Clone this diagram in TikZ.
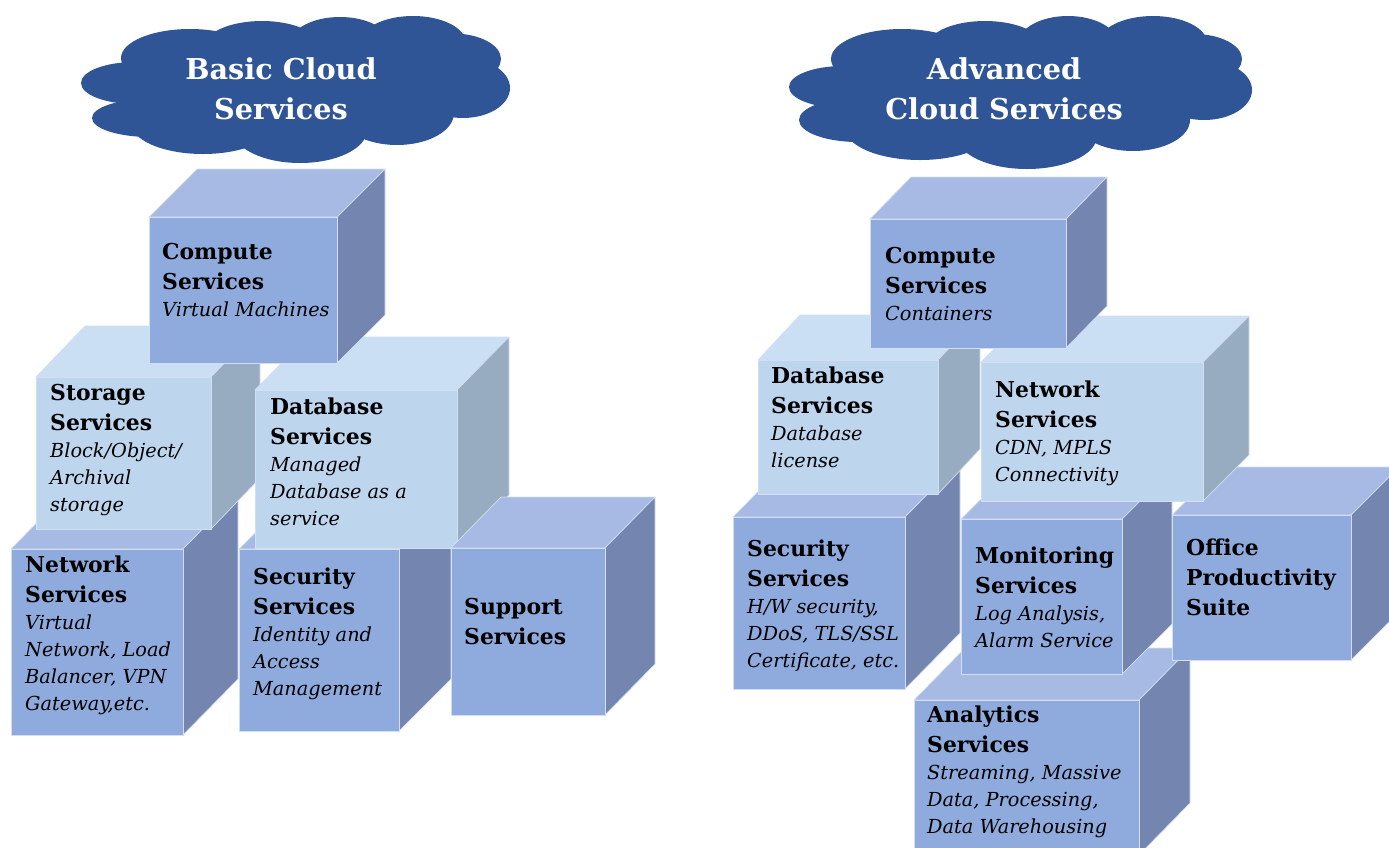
\documentclass[tikz,border=0pt]{standalone}
\usepackage{fontspec}
\setmainfont{DejaVu Serif}
\definecolor{dkfront}{HTML}{8FAADC}
\definecolor{dktop}{HTML}{A6BAE3}
\definecolor{dkside}{HTML}{7486B0}
\definecolor{ltfront}{HTML}{BDD5ED}
\definecolor{lttop}{HTML}{CADFF3}
\definecolor{ltside}{HTML}{97ACC0}
\definecolor{cubeedge}{HTML}{D3DEF2}
\definecolor{cloudblue}{HTML}{2F5597}
\newcommand{\hl}[1]{{\fontsize{21.9}{30}\selectfont\bfseries\baselineskip=30pt\hbox{#1}}}
\newcommand{\il}[1]{{\fontsize{19.3}{27}\selectfont\itshape\baselineskip=27pt\hbox{#1}}}
% \cube{x0}{y0}{x1}{y1}{dx}{dy}{palette}
\newcommand{\cube}[7]{%
  \path[draw=cubeedge,line width=0.7pt,line join=round,fill=#7top]
    (#1,#2) -- ++(#5,-#6) -- (#3+#5,#2-#6) -- (#3,#2) -- cycle;
  \path[draw=cubeedge,line width=0.7pt,line join=round,fill=#7side]
    (#3,#2) -- (#3+#5,#2-#6) -- (#3+#5,#4-#6) -- (#3,#4) -- cycle;
  \path[draw=cubeedge,line width=0.7pt,line join=round,fill=#7front]
    (#1,#2) rectangle (#3,#4);
}
\newcommand{\svc}[4]{\node[anchor=base west,inner sep=0pt,text=black] (#1) at (#2,#3) {\vtop{#4}};}
\newcommand{\cloudpart}[4]{\fill[cloudblue] (#1,#2) ellipse [x radius=#3, y radius=#4];}
\newcommand{\ttl}[4]{\node[anchor=base,inner sep=0pt,text=white,font=\fontsize{28.7}{40}\selectfont\bfseries] (#1) at (#2,79)
  {\vtop{\baselineskip=40pt\hbox to 320pt{\hfil #3\hfil}\hbox to 320pt{\hfil #4\hfil}}};}
\begin{document}
\begin{tikzpicture}[x=1pt,y=-1pt]
\useasboundingbox (0,0) rectangle (1389,847);
\clip (0,0) rectangle (1389,847);
% left cloud
\foreach \a/\b/\c/\d in {135/83/54/21,150/118/58/19,190/58/69/29,262/47/58/26,340/44/50/27,413/43/53/27,453/59/48/25.5,463/88/47/30,397/113/57/32,300/130/67/33,203/123/72/31,290/85/170/50}
  {\cloudpart{\a}{\b}{\c}{\d}}
% right cloud
\foreach \a/\b/\c/\d in {843/87/54/21,858/120/59/22,902/59/71/30,985/47/58/26,1068/44/50/28,1153/43/54/27,1194/59/48/25,1204/90/48/30,1133/120/57/31,1027/136/70/33,920/128/75/32,1020/90/180/50}
  {\cloudpart{\a}{\b}{\c}{\d}}
\ttl{basictitle}{281}{Basic Cloud}{Services}
\ttl{advtitle}{1004}{Advanced}{Cloud Services}
% basic cubes
\cube{11}{549}{183}{735}{55}{56}{dk}
\cube{239}{549}{399}{731}{52}{52}{dk}
\cube{36}{377}{211}{529}{49}{51}{lt}
\cube{255}{390}{457}{548}{52}{53}{lt}
\cube{451}{548}{605}{715}{50}{51}{dk}
\cube{149}{217}{337}{363}{48}{48}{dk}
% advanced cubes
\cube{914}{700}{1139}{855}{51}{52}{dk}
\cube{733}{517}{905}{689}{55}{56}{dk}
\cube{961}{519}{1122}{674}{50}{50}{dk}
\cube{1172}{515}{1351}{660}{48}{48}{dk}
\cube{758}{360}{938}{494}{42}{45}{lt}
\cube{981}{362}{1203}{501}{46}{46}{lt}
\cube{870}{219}{1066}{348}{41}{42}{dk}
% labels
\svc{bcompute}{162}{259}{\hl{Compute}\hl{Services}\il{Virtual Machines}}
\svc{bstorage}{50}{400}{\hl{Storage}\hl{Services}\il{Block/Object/}\il{Archival}\il{storage}}
\svc{bdatabase}{270}{414}{\hl{Database}\hl{Services}\il{Managed}\il{Database as a}\il{service}}
\svc{bnetwork}{25}{572}{\hl{Network}\hl{Services}\il{Virtual}\il{Network, Load}\il{Balancer, VPN}\il{Gateway,etc.}}
\svc{bsecurity}{253}{584}{\hl{Security}\hl{Services}\il{Identity and}\il{Access}\il{Management}}
\svc{bsupport}{464}{614}{\hl{Support}\hl{Services}}
\svc{acompute}{885}{263}{\hl{Compute}\hl{Services}\il{Containers}}
\svc{adatabase}{771}{383}{\hl{Database}\hl{Services}\il{Database}\il{license}}
\svc{anetwork}{995}{397}{\hl{Network}\hl{Services}\il{CDN, MPLS}\il{Connectivity}}
\svc{asecurity}{747}{556}{\hl{Security}\hl{Services}\il{H/W security,}\il{DDoS, TLS/SSL}\il{Certificate, etc.}}
\svc{amonitoring}{975}{563}{\hl{Monitoring}\hl{Services}\il{Log Analysis,}\il{Alarm Service}}
\svc{aoffice}{1186}{555}{\hl{Office}\hl{Productivity}\hl{Suite}}
\svc{aanalytics}{927}{722}{\hl{Analytics}\hl{Services}\il{Streaming, Massive}\il{Data, Processing,}\il{Data Warehousing}}
\end{tikzpicture}
\end{document}
